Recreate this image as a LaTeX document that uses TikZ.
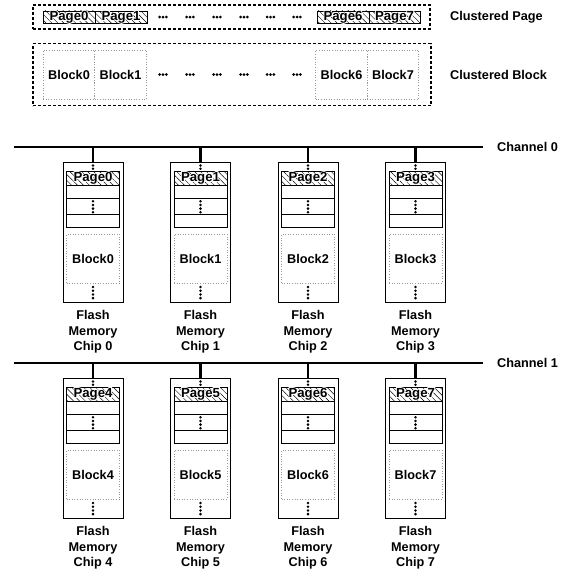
\documentclass[tikz,border=0pt]{standalone}
\usepackage{fontspec}
\setmainfont{Liberation Sans}
\usetikzlibrary{patterns.meta}
\newcommand{\halotext}[1]{\leavevmode\rlap{\special{pdf:code q 1 Tr 1 1 1 RG 1.8 w}#1\special{pdf:code Q}}#1}
\tikzset{
  clusterbox/.style={draw=black, line width=1.5pt, dash pattern=on 3pt off 2pt},
  pagebox/.style={draw=black, line width=0.8pt, inner sep=0pt, minimum height=12pt, minimum width=52pt,
     pattern={Lines[angle=-45,distance=4.2pt,line width=0.45pt]}, font=\fontsize{13.2}{15}\selectfont\bfseries},
  blockbox/.style={draw=gray!80, line width=0.6pt, dotted, inner sep=0pt, minimum height=49pt, minimum width=51.5pt},
  chipbox/.style={draw=black, line width=0.9pt, inner sep=0pt, minimum width=60pt, minimum height=140pt},
  rowbox/.style={draw=black, line width=0.8pt, inner sep=0pt, minimum width=53pt},
  chipblock/.style={draw=gray!80, line width=0.6pt, dotted, inner sep=0pt, minimum width=53pt, minimum height=49pt},
  channel/.style={line width=2.5pt},
  stub/.style={line width=2.4pt},
  lbl/.style={inner sep=0pt, anchor=west},
  hdots/.pic={\fill (-3.4,0) circle (1.5) (0,0) circle (1.5) (3.4,0) circle (1.5);},
}
\begin{document}
\begin{tikzpicture}[x=1pt,y=-1pt,font=\fontsize{12.7}{15.5}\selectfont\bfseries]
\useasboundingbox (0,0) rectangle (573,571);
% clustered page
\node[clusterbox, minimum width=397pt, minimum height=24pt, inner sep=0pt] (cpage) at (231.5,17) {};
\node[pagebox] (cp0) at (69,17) {\halotext{Page0}};
\node[pagebox] (cp1) at (121,17) {\halotext{Page1}};
\node[pagebox] (cp6) at (343,17) {\halotext{Page6}};
\node[pagebox, minimum width=51pt] (cp7) at (394.5,17) {\halotext{Page7}};
\foreach \x in {163,190,217,244,270.5,297} {\pic at (\x,17) {hdots};}
\node[lbl] (lcp) at (450,17) {Clustered Page};
% clustered block
\node[clusterbox, minimum width=398pt, minimum height=62pt, inner sep=0pt] (cblock) at (232,74.5) {};
\node[blockbox] (cb0) at (69,74.5) {Block0};
\node[blockbox] (cb1) at (120.5,74.5) {Block1};
\node[blockbox] (cb6) at (341.5,74.5) {Block6};
\node[blockbox] (cb7) at (393,74.5) {Block7};
\foreach \x in {163,190,217,244,270.5,297} {\pic at (\x,74.5) {hdots};}
\node[lbl] (lcb) at (450,74.5) {Clustered Block};
% channels
\coordinate (ch0L) at (14,147);
\coordinate (ch0R) at (483,147);
\coordinate (ch1L) at (14,363);
\coordinate (ch1R) at (483,363);
\draw[channel] (ch0L) -- (ch0R);
\draw[channel] (ch1L) -- (ch1R);
\node[lbl] (lch0) at (497,147) {Channel 0};
\node[lbl] (lch1) at (497,363) {Channel 1};
% chips
\foreach \i/\cx/\T in {0/93/162,1/200.5/162,2/308/162,3/415.5/162,4/93/378,5/200.5/378,6/308/378,7/415.5/378} {
  \node[chipbox] (chip\i) at (\cx,\T+70) {};
  \node[pagebox, minimum width=53pt, minimum height=14pt] (pg\i) at (\cx,\T+16) {\halotext{Page\i}};
  \node[rowbox, minimum height=13pt] (ra\i) at (\cx,\T+29.5) {};
  \node[rowbox, minimum height=16pt] (rb\i) at (\cx,\T+44) {};
  \node[rowbox, minimum height=13pt] (rc\i) at (\cx,\T+58.5) {};
  \node[chipblock] (blk\i) at (\cx,\T+96.5) {Block\i};
  \coordinate (tap\i) at (\cx,\T-15);
  \draw[stub] (tap\i) -- (chip\i.north);
  \fill (\cx,\T+3.5) circle (1.4) (\cx,\T+6.8) circle (1.4);
  \fill (\cx,\T+39.2) circle (1.4) (\cx,\T+42.9) circle (1.4) (\cx,\T+46.6) circle (1.4) (\cx,\T+50.3) circle (1.4);
  \fill (\cx,\T+125) circle (1.4) (\cx,\T+128.7) circle (1.4) (\cx,\T+132.4) circle (1.4) (\cx,\T+136.1) circle (1.4);
  \node[align=center, inner sep=0pt] (lab\i) at (\cx,\T+170) {Flash\\Memory\\Chip \i};
}
\end{tikzpicture}
\end{document}
